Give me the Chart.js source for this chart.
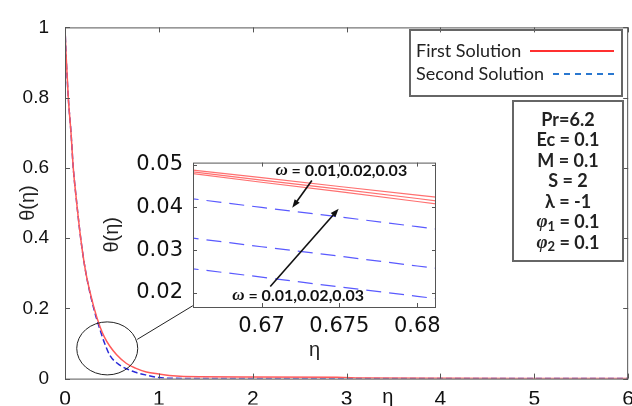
<!DOCTYPE html>
<html>
<head>
<meta charset="utf-8">
<script src="https://cdn.jsdelivr.net/npm/chart.js@4.4.0/dist/chart.umd.min.js"></script>
<style>
  body { margin: 0; background: #fff; }
  #wrap { position: relative; width: 632px; height: 406px; overflow: hidden; }
  #main { position: absolute; left: 0; top: 0; }
  #inset { position: absolute; left: 90px; top: 140px; }
</style>
</head>
<body>
<div id="wrap">
  <canvas id="main" width="642" height="406"></canvas>
  <canvas id="inset" width="360" height="222"></canvas>
</div>
<script>
// main plot, theta(eta)
var eta = [0, 0.01, 0.035, 0.064, 0.088, 0.117, 0.167, 0.223, 0.311, 0.37, 0.42, 0.478, 0.55, 0.655, 0.75, 0.867, 1.0, 1.11, 1.43, 2.0, 2.9, 3.2, 4, 5, 6];
var firstSolution = [1.0, 0.93, 0.80, 0.70, 0.60, 0.52, 0.40, 0.30, 0.20, 0.15, 0.118, 0.092, 0.068, 0.043, 0.030, 0.019, 0.013, 0.009, 0.005, 0.0045, 0.004, 0.0015, 0.001, 0.0005, 0];
var secondSolution = [1.0, 0.93, 0.80, 0.70, 0.60, 0.52, 0.40, 0.30, 0.195, 0.142, 0.102, 0.066, 0.045, 0.028, 0.018, 0.010, 0.003, 0.001, 0.0005, 0.0003, 0.0002, 0.0001, 0, 0, 0];
var mainXTicks = [0, 1, 2, 3, 4, 5, 6];
var mainYTicks = [0, 0.2, 0.4, 0.6, 0.8, 1];

// inset (zoom near eta = 0.67), omega = 0.01, 0.02, 0.03
var insetEta = [0.665, 0.670, 0.675, 0.680, 0.682];
var first1 = [0.0490, 0.0470, 0.0449, 0.0429, 0.0421];
var first2 = [0.0486, 0.0464, 0.0443, 0.0421, 0.0412];
var first3 = [0.0482, 0.0459, 0.0437, 0.0414, 0.0405];
var second1 = [0.0423, 0.0400, 0.0378, 0.0355, 0.0346];
var second2 = [0.0331, 0.0308, 0.0286, 0.0263, 0.0254];
var second3 = [0.0259, 0.0237, 0.0214, 0.0192, 0.0183];
var insetXTicks = [0.67, 0.675, 0.68];
var insetYTicks = [0.02, 0.03, 0.04, 0.05];

var params = ["Pr=6.2", "Ec = 0.1", "M = 0.1", "S = 2", "λ = -1", "φ1 = 0.1", "φ2 = 0.1"];

function pts(xs, ys) {
  return xs.map(function (x, i) { return { x: x, y: ys[i] }; });
}

function setTicks(list) {
  return function (scale) {
    scale.ticks = list.map(function (v) { return { value: v }; });
  };
}

// inward ticks on all four sides + grey box
function drawBox(chart, len) {
  var ctx = chart.ctx, a = chart.chartArea;
  var xs = chart.scales.x, ys = chart.scales.y;
  ctx.save();
  ctx.strokeStyle = '#555';
  ctx.lineWidth = 1;
  ctx.strokeRect(a.left + 0.5, a.top + 0.5, a.right - a.left - 1, a.bottom - a.top);
  ctx.beginPath();
  xs.ticks.forEach(function (t) {
    var px = Math.round(xs.getPixelForValue(t.value)) + 0.5;
    ctx.moveTo(px, a.bottom); ctx.lineTo(px, a.bottom - len);
    ctx.moveTo(px, a.top); ctx.lineTo(px, a.top + len);
  });
  ys.ticks.forEach(function (t) {
    var py = Math.round(ys.getPixelForValue(t.value)) + 0.5;
    ctx.moveTo(a.left, py); ctx.lineTo(a.left + len, py);
    ctx.moveTo(a.right, py); ctx.lineTo(a.right - len, py);
  });
  ctx.stroke();
  ctx.restore();
}

// draws "ω = ..." with italic omega
function omegaText(ctx, x, y, rest) {
  ctx.textBaseline = 'middle';
  ctx.textAlign = 'left';
  ctx.font = 'italic bold 17px "Liberation Serif"';
  ctx.fillText('ω', x, y);
  var w = ctx.measureText('ω').width;
  ctx.font = 'bold 16px Lato';
  ctx.fillText(rest, x + w, y);
}

function arrow(ctx, x1, y1, x2, y2) {
  var ang = Math.atan2(y2 - y1, x2 - x1), h = 9;
  ctx.beginPath();
  ctx.moveTo(x1, y1);
  ctx.lineTo(x2 - Math.cos(ang) * h * 0.8, y2 - Math.sin(ang) * h * 0.8);
  ctx.stroke();
  ctx.beginPath();
  ctx.moveTo(x2, y2);
  ctx.lineTo(x2 - h * Math.cos(ang - 0.35), y2 - h * Math.sin(ang - 0.35));
  ctx.lineTo(x2 - h * Math.cos(ang + 0.35), y2 - h * Math.sin(ang + 0.35));
  ctx.closePath();
  ctx.fill();
}

var mainDecor = {
  id: 'mainDecor',
  afterDraw: function (chart) {
    var ctx = chart.ctx;
    var xs = chart.scales.x, ys = chart.scales.y;
    drawBox(chart, 5);
    ctx.save();
    // eta label sits in the tick row
    ctx.fillStyle = '#111';
    ctx.font = '20px "Liberation Sans"';
    ctx.textAlign = 'center';
    ctx.textBaseline = 'middle';
    ctx.fillText('η', xs.getPixelForValue(3.44), 397);

    // ellipse + connector to inset
    var cx = xs.getPixelForValue(0.45), cy = ys.getPixelForValue(0.086);
    ctx.strokeStyle = '#222';
    ctx.lineWidth = 1;
    ctx.beginPath();
    ctx.ellipse(cx, cy, 30.5, 26.5, 0, 0, Math.PI * 2);
    ctx.stroke();
    ctx.beginPath();
    ctx.moveTo(cx + 30, cy - 9);
    ctx.lineTo(xs.getPixelForValue(1.362), ys.getPixelForValue(0.2075));
    ctx.stroke();

    // legend box
    ctx.strokeStyle = '#666';
    ctx.lineWidth = 2;
    ctx.strokeRect(410, 30, 212, 66);
    ctx.fillStyle = '#222';
    ctx.font = '18px Lato';
    ctx.textAlign = 'left';
    ctx.fillText('First Solution', 416, 51);
    ctx.fillText('Second Solution', 416, 74);
    ctx.strokeStyle = '#ff3030';
    ctx.lineWidth = 2;
    ctx.beginPath(); ctx.moveTo(530, 51); ctx.lineTo(614, 51); ctx.stroke();
    ctx.strokeStyle = '#2a78d0';
    ctx.setLineDash([6, 5]);
    ctx.beginPath(); ctx.moveTo(553, 74); ctx.lineTo(614, 74); ctx.stroke();
    ctx.setLineDash([]);

    // parameter box
    ctx.strokeStyle = '#666';
    ctx.strokeRect(513, 101, 110, 160);
    ctx.fillStyle = '#222';
    params.forEach(function (p, i) {
      var y = 120 + i * 20.5;
      if (p.charAt(0) === 'φ') {
        ctx.font = 'italic bold 19px "Liberation Serif"';
        var w1 = ctx.measureText('φ').width;
        ctx.font = 'bold 13px Lato';
        var w2 = ctx.measureText(p.charAt(1)).width;
        ctx.font = 'bold 18px Lato';
        var rest = p.slice(2);
        var w3 = ctx.measureText(rest).width;
        var x0 = 568 - (w1 + w2 + w3) / 2;
        ctx.textAlign = 'left';
        ctx.font = 'italic bold 19px "Liberation Serif"';
        ctx.fillText('φ', x0, y);
        ctx.font = 'bold 13px Lato';
        ctx.fillText(p.charAt(1), x0 + w1, y + 4);
        ctx.font = 'bold 18px Lato';
        ctx.fillText(rest, x0 + w1 + w2, y);
      } else {
        ctx.font = 'bold 18px Lato';
        ctx.textAlign = 'center';
        ctx.fillText(p, 568, y);
      }
    });
    ctx.restore();
  }
};

new Chart(document.getElementById('main'), {
  type: 'line',
  data: {
    datasets: [{
      label: 'First Solution',
      data: pts(eta, firstSolution),
      borderColor: '#ff5a5a',
      borderWidth: 1.5,
      pointRadius: 0,
      cubicInterpolationMode: 'monotone'
    }, {
      label: 'Second Solution',
      data: pts(eta, secondSolution),
      borderColor: '#2a2ad8',
      borderWidth: 1.5,
      borderDash: [6, 3],
      pointRadius: 0,
      cubicInterpolationMode: 'monotone'
    }]
  },
  options: {
    responsive: false,
    animation: false,
    events: [],
    layout: { padding: { top: 24, right: 12, left: 0, bottom: 0 } },
    plugins: { legend: { display: false }, tooltip: { enabled: false } },
    scales: {
      x: {
        type: 'linear', min: 0, max: 6,
        grid: { display: false, drawTicks: false }, border: { display: false },
        afterBuildTicks: setTicks(mainXTicks),
        afterFit: function (s) { s.height = 26; },
        ticks: {
          autoSkip: false, maxRotation: 0, padding: 8, color: '#111',
          font: { family: 'Liberation Sans', size: 21 },
          callback: function (v) { return String(v); }
        }
      },
      y: {
        min: 0, max: 1,
        grid: { display: false, drawTicks: false }, border: { display: false },
        afterBuildTicks: setTicks(mainYTicks),
        afterFit: function (s) { s.width = 65; },
        ticks: {
          padding: 16, color: '#111',
          font: { family: 'Liberation Sans', size: 19 },
          callback: function (v) { return String(v); }
        },
        title: {
          display: true, text: 'θ(η)', color: '#222',
          font: { family: 'Liberation Sans', size: 20 },
          padding: { top: 16, bottom: 0 }
        }
      }
    }
  },
  plugins: [mainDecor]
});

var insetDecor = {
  id: 'insetDecor',
  beforeDatasetsDraw: function (chart) {
    var a = chart.chartArea, ctx = chart.ctx;
    ctx.save();
    ctx.fillStyle = '#fff';
    ctx.fillRect(a.left, a.top, a.right - a.left, a.bottom - a.top);
    ctx.restore();
  },
  afterDraw: function (chart) {
    var ctx = chart.ctx, xs = chart.scales.x, ys = chart.scales.y;
    drawBox(chart, 4);
    ctx.save();
    ctx.fillStyle = '#111';
    ctx.strokeStyle = '#111';
    ctx.lineWidth = 1.6;
    omegaText(ctx, xs.getPixelForValue(0.67089), ys.getPixelForValue(0.04852), ' = 0.01,0.02,0.03');
    omegaText(ctx, xs.getPixelForValue(0.66812), ys.getPixelForValue(0.01932), ' = 0.01,0.02,0.03');
    arrow(ctx, xs.getPixelForValue(0.67323), ys.getPixelForValue(0.04631),
      xs.getPixelForValue(0.67197), ys.getPixelForValue(0.03991));
    arrow(ctx, xs.getPixelForValue(0.67056), ys.getPixelForValue(0.02152),
      xs.getPixelForValue(0.67495), ys.getPixelForValue(0.03969));
    ctx.restore();
  }
};

function insetLine(ys, color, dash) {
  return {
    data: pts(insetEta, ys),
    borderColor: color,
    borderWidth: 1.2,
    borderDash: dash,
    pointRadius: 0
  };
}

new Chart(document.getElementById('inset'), {
  type: 'line',
  data: {
    datasets: [
      insetLine(first1, '#ff7070', []),
      insetLine(first2, '#ff7070', []),
      insetLine(first3, '#ff7070', []),
      insetLine(second1, '#5a5aff', [15, 8]),
      insetLine(second2, '#5a5aff', [15, 8]),
      insetLine(second3, '#5a5aff', [15, 8])
    ]
  },
  options: {
    responsive: false,
    animation: false,
    events: [],
    layout: { padding: { top: 13, right: 14, left: 0, bottom: 0 } },
    plugins: { legend: { display: false }, tooltip: { enabled: false } },
    scales: {
      x: {
        type: 'linear', min: 0.6656, max: 0.6812,
        grid: { display: false, drawTicks: false }, border: { display: false },
        afterBuildTicks: setTicks(insetXTicks),
        afterFit: function (s) { s.height = 55; },
        ticks: {
          autoSkip: false, maxRotation: 0, padding: 7, color: '#111',
          font: { family: 'DejaVu Sans', size: 21 },
          callback: function (v) { return String(v); }
        },
        title: {
          display: true, text: 'η', color: '#222',
          font: { family: 'Liberation Sans', size: 20 },
          padding: { top: 2, bottom: 0 }
        }
      },
      y: {
        min: 0.0167, max: 0.0505,
        grid: { display: false, drawTicks: false }, border: { display: false },
        afterBuildTicks: setTicks(insetYTicks),
        afterFit: function (s) { s.width = 103; },
        ticks: {
          padding: 10, color: '#111',
          font: { family: 'DejaVu Sans', size: 21 },
          callback: function (v) { return String(v); }
        },
        title: {
          display: true, text: 'θ(η)', color: '#222',
          font: { family: 'Liberation Sans', size: 20 },
          padding: { top: 10, bottom: 0 }
        }
      }
    }
  },
  plugins: [insetDecor]
});
</script>
</body>
</html>
